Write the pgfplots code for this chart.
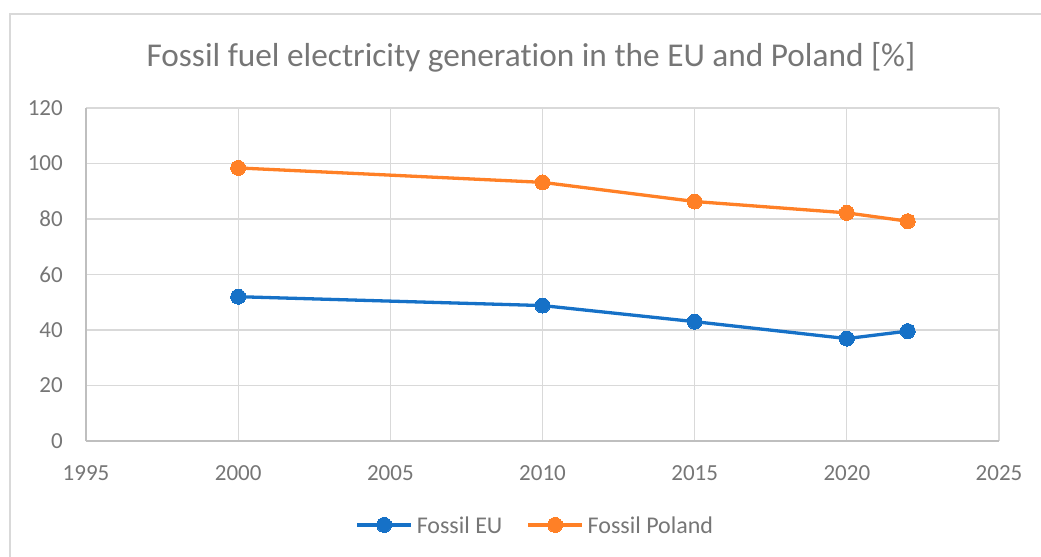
\documentclass[border=0pt]{standalone}
\usepackage{fontspec}
\setmainfont{Carlito}[Ligatures={NoCommon}]
\usepackage{pgfplots}
\pgfplotsset{compat=1.18}
\definecolor{eublue}{RGB}{22,113,199}
\definecolor{plorange}{RGB}{255,128,38}
\definecolor{txtgray}{RGB}{118,118,118}
\definecolor{gridgray}{RGB}{217,217,217}
\definecolor{axgray}{RGB}{191,191,191}
\begin{document}
\begin{tikzpicture}[x=1bp,y=1bp]
\useasboundingbox (0,0) rectangle (1041,557);
\draw[gridgray, line width=1.5bp] (10,-5) -- (10,543) -- (1050,543);
\node[anchor=base, text=txtgray, font=\fontsize{33.3bp}{40bp}\selectfont, inner sep=0] at (531,490) {Fossil fuel electricity generation in the EU and Poland [\%]};
\begin{axis}[
  at={(86bp,116bp)}, anchor=south west,
  scale only axis, width=913bp, height=333bp,
  xmin=1995, xmax=2025, ymin=0, ymax=120,
  xtick={1995,2000,...,2025}, ytick={0,20,...,120},
  grid=major, grid style={gridgray, line width=1.3bp},
  axis lines*=left, axis line style={axgray, line width=1.3bp, -},
  major tick length=0pt,
  /pgf/number format/assume math mode=true,
  /pgf/number format/1000 sep={},
  tick label style={text=txtgray, font=\fontsize{23bp}{27bp}\selectfont, inner sep=0pt},
  x tick label style={anchor=north, yshift=-24bp},
  y tick label style={anchor=east, xshift=-23bp},
  legend columns=2,
  legend style={at={(0.491,-0.252)}, anchor=center, draw=none, fill=none,
    font=\fontsize{24bp}{28bp}\selectfont, text=txtgray, inner sep=0pt,
    /tikz/every even column/.append style={column sep=24bp},
    nodes={inner sep=0pt, text depth=0pt, anchor=west}},
  legend image code/.code={\draw[mark repeat=2,mark phase=2] plot coordinates {(0bp,0bp) (27bp,0bp) (54bp,0bp)};},
  legend cell align=left,
]
\addplot[color=eublue, line width=3.3bp, mark=*, mark size=7.5bp, mark options={solid, fill=eublue, draw=eublue, line width=0pt}]
  coordinates {(2000,52.0) (2010,48.8) (2015,43.0) (2020,36.9) (2022,39.6)};
\addlegendentry{\hspace{4bp}Fossil EU}
\addplot[color=plorange, line width=3.3bp, mark=*, mark size=7.5bp, mark options={solid, fill=plorange, draw=plorange, line width=0pt}]
  coordinates {(2000,98.4) (2010,93.2) (2015,86.3) (2020,82.2) (2022,79.2)};
\addlegendentry{\hspace{4bp}Fossil Poland}
\end{axis}
\end{tikzpicture}
\end{document}
